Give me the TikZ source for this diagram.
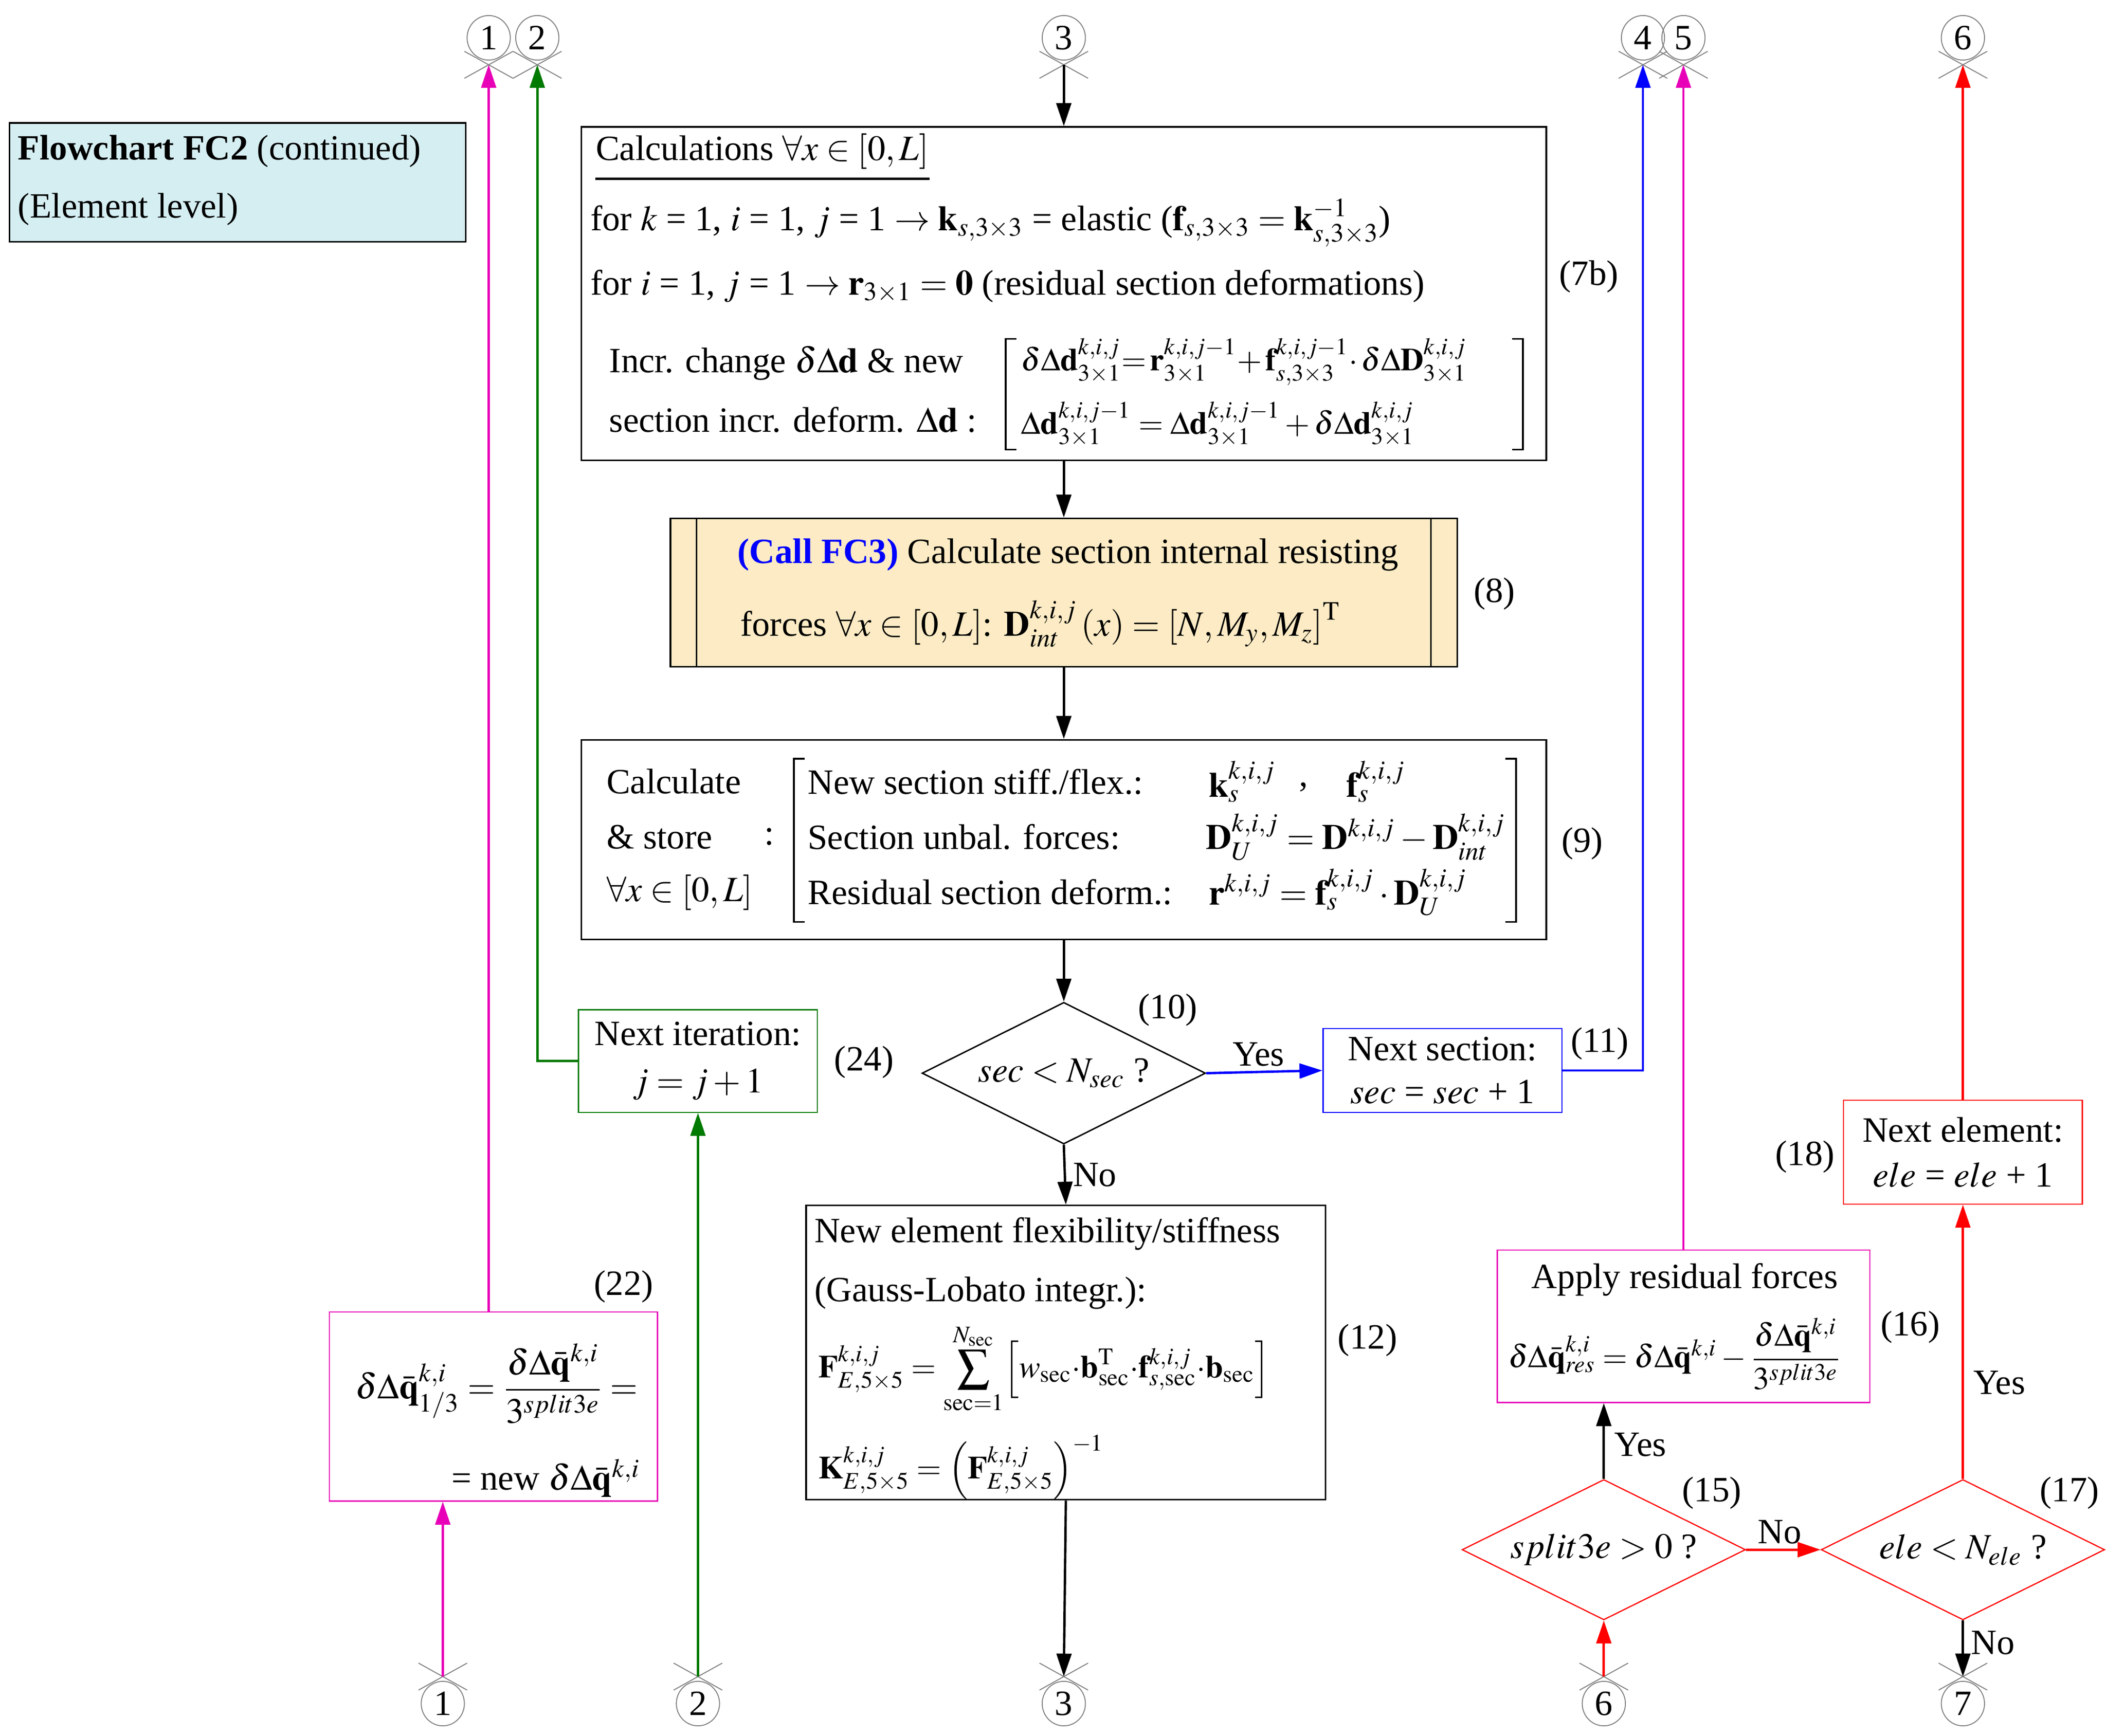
\documentclass[tikz,border=0pt]{standalone}
\usepackage{amsmath}
\usepackage{mathptmx}
\usepackage[no-math]{fontspec}
\setmainfont{Liberation Serif}
\usetikzlibrary{shapes.geometric,arrows.meta}
\definecolor{mag}{HTML}{E800B8}
\definecolor{grn}{HTML}{007A00}
\definecolor{titlefill}{HTML}{D5EEF2}
\definecolor{callfill}{HTML}{FCEBC4}
\begin{document}
\begin{tikzpicture}[x=0.02cm,y=-0.02cm,font=\fontsize{15}{18}\selectfont,
 box/.style={draw,line width=0.7pt,rectangle,inner sep=0},
 cbox/.style={draw,line width=0.5pt,rectangle,inner sep=0},
 txt/.style={anchor=west,inner sep=0},
 sm/.style={anchor=west,inner sep=0,font=\fontsize{13.5}{16}\selectfont},
 lab/.style={inner sep=0},
 conn/.style={ellipse,draw=gray,line width=0.4pt,minimum width=0.64cm,minimum height=0.66cm,inner sep=0},
 xc/.style={gray,line width=0.4pt},
 arr/.style={line width=1pt,-{Triangle[length=0.34cm,width=0.22cm]}},
 dec/.style={diamond,aspect=2,draw,line width=0.6pt,inner sep=0,minimum width=4.2cm,minimum height=2.1cm}]
\useasboundingbox (0,0) rectangle (1560,1286);

% title
\node[box,fill=titlefill,minimum width=6.76cm,minimum height=1.76cm] (title) at (176,135) {};
\node[txt] (tt1) at (13,112) {\textbf{Flowchart FC2} (continued)};
\node[txt] (tt2) at (13,155) {(Element level)};

% off-page connectors top
\foreach \n/\x in {1/362,2/398,3/788,4/1217,5/1247,6/1454}{
  \node[conn] (c\n) at (\x,28) {\n};
  \coordinate (c\n x) at (\x,48);
  \draw[xc] (\x-18,38) -- (\x+18,58) (\x-18,58) -- (\x+18,38);
}
% off-page connectors bottom
\foreach \n/\x in {1/328,2/517,3/788,6/1188,7/1454}{
  \node[conn] (b\n) at (\x,1262) {\n};
  \coordinate (b\n x) at (\x,1242);
  \draw[xc] (\x-18,1232) -- (\x+18,1252) (\x-18,1252) -- (\x+18,1232);
}

% box 7b
\node[box,minimum width=14.3cm,minimum height=4.94cm] (n7) at (788,217.5) {};
\node[txt] (t7a) at (441,112) {Calculations $\forall x\in\left[0,L\right]$};
\draw[line width=1.1pt] ([yshift=-4pt]t7a.south west) -- ([yshift=-4pt]t7a.south east);
\node[txt] (t7b) at (437,165) {for $k$ = 1, $i$ = 1, $j$ = 1 $\rightarrow\mathbf{k}_{s,3\times3}$ = elastic ($\mathbf{f}_{s,3\times3}=\mathbf{k}^{-1}_{s,3\times3}$)};
\node[txt] (t7c) at (437,212) {for $i$ = 1, $j$ = 1 $\rightarrow\mathbf{r}_{3\times1}=\mathbf{0}$ (residual section deformations)};
\node[txt] (t7d) at (451,269) {Incr. change $\delta\Delta\mathbf{d}$ \& new};
\node[txt] (t7e) at (451,311) {section incr. deform. $\Delta\mathbf{d}$ :};
\draw[line width=0.7pt] (753,251) -- (745,251) -- (745,333) -- (753,333);
\draw[line width=0.7pt] (1120,251) -- (1128,251) -- (1128,333) -- (1120,333);
\node[sm] (t7f) at (756,268) {$\delta\Delta\mathbf{d}^{k,i,j}_{3\times1}{=}\,\mathbf{r}^{k,i,j-1}_{3\times1}{+}\,\mathbf{f}^{k,i,j-1}_{s,3\times3}{\cdot}\,\delta\Delta\mathbf{D}^{k,i,j}_{3\times1}$};
\node[sm] (t7g) at (756,314) {$\Delta\mathbf{d}^{k,i,j-1}_{3\times1}=\Delta\mathbf{d}^{k,i,j-1}_{3\times1}+\delta\Delta\mathbf{d}^{k,i,j}_{3\times1}$};
\node[lab] (l7) at (1177,205) {(7b)};

% box 8
\node[box,fill=callfill,minimum width=11.66cm,minimum height=2.2cm] (n8) at (788,439) {};
\draw[line width=0.6pt] ([xshift=0.4cm]n8.north west) -- ([xshift=0.4cm]n8.south west);
\draw[line width=0.6pt] ([xshift=-0.4cm]n8.north east) -- ([xshift=-0.4cm]n8.south east);
\node[txt] (t8a) at (546,411) {\textcolor{blue}{\textbf{(Call FC3)}} Calculate section internal resisting};
\node[txt] (t8b) at (548,462) {forces $\forall x\in\left[0,L\right]$: $\mathbf{D}^{k,i,j}_{int}\left(x\right)=\left[N,M_y,M_z\right]^{\mathrm{T}}$};
\node[lab] (l8) at (1107,440) {(8)};

% box 9
\node[box,minimum width=14.3cm,minimum height=2.96cm] (n9) at (788,622) {};
\node[txt] (t9a) at (449,579) {Calculate};
\node[txt] (t9b) at (449,620) {\& store};
\node[txt] (t9c) at (566,620) {:};
\node[txt] (t9d) at (449,661) {$\forall x\in\left[0,L\right]$};
\draw[line width=0.7pt] (596,562) -- (588,562) -- (588,683) -- (596,683);
\draw[line width=0.7pt] (1115,562) -- (1123,562) -- (1123,683) -- (1115,683);
\node[txt] (t9e) at (598,579) {New section stiff./flex.:};
\node[txt] (t9f) at (895,579) {$\mathbf{k}_s^{k,i,j}$};
\node[txt] (t9g) at (962,583) {,};
\node[txt] (t9h) at (997,579) {$\mathbf{f}_s^{k,i,j}$};
\node[txt] (t9i) at (598,620) {Section unbal. forces:};
\node[txt] (t9j) at (893,620) {$\mathbf{D}_U^{k,i,j}=\mathbf{D}^{k,i,j}-\mathbf{D}_{int}^{k,i,j}$};
\node[txt] (t9k) at (598,661) {Residual section deform.:};
\node[txt] (t9l) at (895,661) {$\mathbf{r}^{k,i,j}=\mathbf{f}_s^{k,i,j}\cdot\mathbf{D}_U^{k,i,j}$};
\node[lab] (l9) at (1172,625) {(9)};

% decision 10
\node[dec] (d10) at (788,795) {$sec<N_{sec}$ ?};
\node[lab] (l10) at (865,748) {(10)};

% box 11
\node[cbox,draw=blue,minimum width=3.54cm,minimum height=1.24cm,align=center] (n11) at (1068.5,793) {Next section:\\ $sec$ = $sec$ + 1};
\node[lab] (l11) at (1185,773) {(11)};

% box 24
\node[cbox,draw=grn,minimum width=3.54cm,minimum height=1.52cm,align=center] (n24) at (517,786) {Next iteration:\\[2pt] $j=j+1$};
\node[lab] (l24) at (640,787) {(24)};

% box 12
\node[box,minimum width=7.7cm,minimum height=4.36cm] (n12) at (789.5,1002) {};
\node[txt] (t12a) at (603,914) {New element flexibility/stiffness};
\node[txt] (t12b) at (603,958) {(Gauss-Lobato integr.):};
\node[sm] (t12c) at (606,1014) {$\displaystyle\mathbf{F}^{k,i,j}_{E,5\times5}=\sum_{\mathrm{sec}=1}^{N_{\mathrm{sec}}}\!\Big[w_{\mathrm{sec}}{\cdot}\mathbf{b}^{\mathrm{T}}_{\mathrm{sec}}{\cdot}\mathbf{f}^{k,i,j}_{s,\mathrm{sec}}{\cdot}\mathbf{b}_{\mathrm{sec}}\Big]$};
\node[sm] (t12d) at (606,1087) {$\mathbf{K}^{k,i,j}_{E,5\times5}=\Big(\mathbf{F}^{k,i,j}_{E,5\times5}\Big)^{-1}$};
\node[lab] (l12) at (1013,993) {(12)};

% box 22
\node[cbox,draw=mag,minimum width=4.86cm,minimum height=2.8cm] (n22) at (365.5,1042) {};
\node[txt] (t22a) at (263,1025) {$\delta\Delta\bar{\mathbf{q}}^{k,i}_{1/3}=\dfrac{\delta\Delta\bar{\mathbf{q}}^{k,i}}{3^{split3e}}=$};
\node[txt] (t22b) at (334,1095) {= new $\delta\Delta\bar{\mathbf{q}}^{k,i}$};
\node[lab] (l22) at (462,953) {(22)};

% box 16
\node[cbox,draw=mag,minimum width=5.52cm,minimum height=2.26cm] (n16) at (1247,982.5) {};
\node[lab] (t16a) at (1248,948) {Apply residual forces};
\node[sm] (t16b) at (1117,1003) {$\delta\Delta\bar{\mathbf{q}}^{k,i}_{res}=\delta\Delta\bar{\mathbf{q}}^{k,i}-\dfrac{\delta\Delta\bar{\mathbf{q}}^{k,i}}{3^{split3e}}$};
\node[lab] (l16) at (1415,983) {(16)};

% box 18
\node[cbox,draw=red,minimum width=3.54cm,minimum height=1.54cm,align=center] (n18) at (1454,853.5) {Next element:\\[1pt] $ele$ = $ele$ + 1};
\node[lab] (l18) at (1337,857) {(18)};

% decisions 15, 17
\node[dec,draw=red,line width=0.5pt,minimum height=2.08cm] (d15) at (1188,1148) {$split3e>0$ ?};
\node[lab] (l15) at (1268,1106) {(15)};
\node[dec,draw=red,line width=0.5pt,minimum height=2.08cm] (d17) at (1454,1148) {$ele<N_{ele}$ ?};
\node[lab] (l17) at (1533,1106) {(17)};

% connectors
\draw[arr] (c3x) -- (n7.north);
\draw[arr] (n7.south) -- (n8.north);
\draw[arr] (n8.south) -- (n9.north);
\draw[arr] (n9.south) -- (d10.north);
\draw[arr,blue] (d10.east) -- (n11.west) node[pos=0.45,above,black,inner sep=2pt] (y10) {Yes};
\draw[arr,blue] (n11.east) -| (c4x);
\draw[arr] (d10.south) -- (n12.north) node[pos=0.5,right,inner sep=3pt] (no10) {No};
\draw[arr] (n12.south) -- (b3x);
\draw[arr,grn] (n24.west) -| (c2x);
\draw[arr,grn] (b2x) -- (n24.south);
\draw[arr,mag] (b1x) -- (b1x |- n22.south);
\draw[arr,mag] (c1x |- n22.north) -- (c1x);
\draw[arr,mag] (n16.north) -- (c5x);
\draw[arr] (d15.north) -- (d15.north |- n16.south) node[pos=0.45,right,inner sep=4pt] (y15) {Yes};
\draw[arr,red] (b6x) -- (d15.south);
\draw[arr,red] (d15.east) -- (d17.west) node[pos=0.45,above,black,inner sep=2pt] (no15) {No};
\draw[arr,red] (d17.north) -- (n18.south) node[pos=0.35,right,black,inner sep=4pt] (y17) {Yes};
\draw[arr,red] (n18.north) -- (c6x);
\draw[arr] (d17.south) -- (b7x) node[pos=0.4,right,inner sep=3pt] (no17) {No};
\end{tikzpicture}
\end{document}
